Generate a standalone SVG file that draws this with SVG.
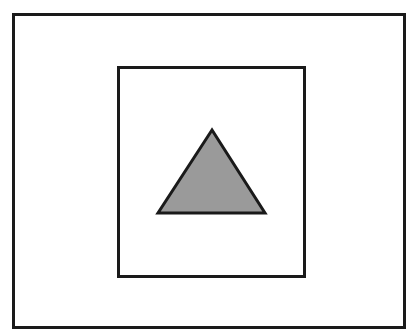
<svg xmlns="http://www.w3.org/2000/svg" width="407" height="330" viewBox="0 0 407 330">
<style>
.frame{fill:none;stroke:#1a1a1a;stroke-width:3}
.tri{fill:#9a9a9a;stroke:#1a1a1a;stroke-width:3;stroke-linejoin:miter}
</style>
<rect width="407" height="330" fill="#ffffff"/>
<g id="outer"><rect class="frame" x="13.5" y="14.5" width="391" height="313"/></g>
<g id="inner"><rect class="frame" x="118.5" y="67.5" width="186" height="209"/></g>
<g id="triangle"><polygon class="tri" points="212,130 158,213 265,213"/></g>
<g id="connectors"></g>
</svg>
